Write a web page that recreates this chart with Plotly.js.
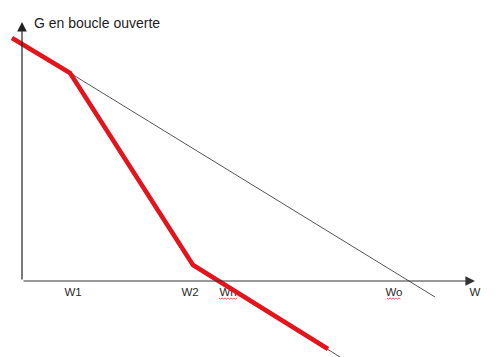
<!DOCTYPE html>
<html>
<head>
<meta charset="utf-8">
<script src="https://cdn.plot.ly/plotly-3.0.1.min.js"></script>
<style>
  html, body { margin: 0; padding: 0; background: #fff; }
  #chart { width: 500px; height: 357px; }
</style>
</head>
<body>
<div id="chart"></div>
<script>
// Asymptotic open-loop gain sketch (Bode-style), origin at the axes' corner.
// Real curve: break points at W1 and W2.
const gainX = [-10, 48, 171, 306];
const gainY = [243, 208, 16, -68];

// Thin construction lines: single-slope asymptote from W1, and the
// continuation of the last segment past the end of the red curve.
const asymX = [48, 413];
const asymY = [208, -16];
const tailX = [171, 318];
const tailY = [16, -76];

// Frequency labels along the horizontal axis.
const freqLabels = ['W1', 'W2', 'Wn', 'Wo', 'W'];
const freqLabelX = [51, 168, 206, 372, 453];
// Labels carrying a spell-check squiggle underneath.
const squiggled = ['Wn', 'Wo'];

const axisTitle = 'G en boucle ouverte';

const labelY = -12;

const traces = [
  {
    x: freqLabelX, y: freqLabels.map(() => labelY),
    mode: 'text', text: freqLabels, textposition: 'middle center',
    textfont: { family: 'Liberation Sans, Arial, sans-serif', size: 11.5, color: '#2a2a2a' },
    hoverinfo: 'skip', showlegend: false
  },
  {
    x: asymX, y: asymY, mode: 'lines',
    line: { color: '#555', width: 1 }, hoverinfo: 'skip', showlegend: false
  },
  {
    x: tailX, y: tailY, mode: 'lines',
    line: { color: '#555', width: 1 }, hoverinfo: 'skip', showlegend: false
  },
  {
    x: gainX, y: gainY, mode: 'lines',
    line: { color: '#e3141c', width: 4.5 }, hoverinfo: 'skip', showlegend: false
  }
];

// Wavy underline beneath the flagged labels.
const shapes = [];
squiggled.forEach(lbl => {
  const i = freqLabels.indexOf(lbl);
  const cx = freqLabelX[i];
  const half = lbl === 'Wn' ? 9 : 7;
  let path = '';
  const step = 1.5;
  let k = 0;
  for (let x = cx - half; x <= cx + half + 0.01; x += step, k++) {
    const y = labelY - 5 - (k % 2 ? 1 : 0);
    path += (k === 0 ? 'M ' : ' L ') + x.toFixed(2) + ',' + y;
  }
  shapes.push({
    type: 'path', xref: 'x', yref: 'y', path: path,
    line: { color: '#e33', width: 0.8 }, layer: 'above'
  });
});

const annotations = [
  // vertical axis with arrow
  {
    x: 0, y: 259, ax: 0, ay: 0, xref: 'x', yref: 'y', axref: 'x', ayref: 'y',
    showarrow: true, arrowhead: 2, arrowsize: 1.6, arrowwidth: 1.2,
    arrowcolor: '#222', text: ''
  },
  // horizontal axis with arrow
  {
    x: 453, y: 0, ax: 0, ay: 0, xref: 'x', yref: 'y', axref: 'x', ayref: 'y',
    showarrow: true, arrowhead: 2, arrowsize: 1.6, arrowwidth: 1.2,
    arrowcolor: '#333', text: ''
  },
  {
    x: 10, y: 258, xref: 'x', yref: 'y', xanchor: 'left', yanchor: 'middle',
    showarrow: false, text: axisTitle,
    font: { family: 'Liberation Sans, Arial, sans-serif', size: 14, color: '#1e1e1e' }
  }
];

const layout = {
  width: 500, height: 357,
  margin: { l: 0, r: 0, t: 0, b: 0, pad: 0 },
  paper_bgcolor: '#fff', plot_bgcolor: '#fff',
  xaxis: { range: [-22, 478], visible: false, fixedrange: true },
  yaxis: { range: [-76, 281], visible: false, fixedrange: true },
  showlegend: false,
  shapes: shapes,
  annotations: annotations
};

Plotly.newPlot('chart', traces, layout, { staticPlot: true, displayModeBar: false });
</script>
</body>
</html>
